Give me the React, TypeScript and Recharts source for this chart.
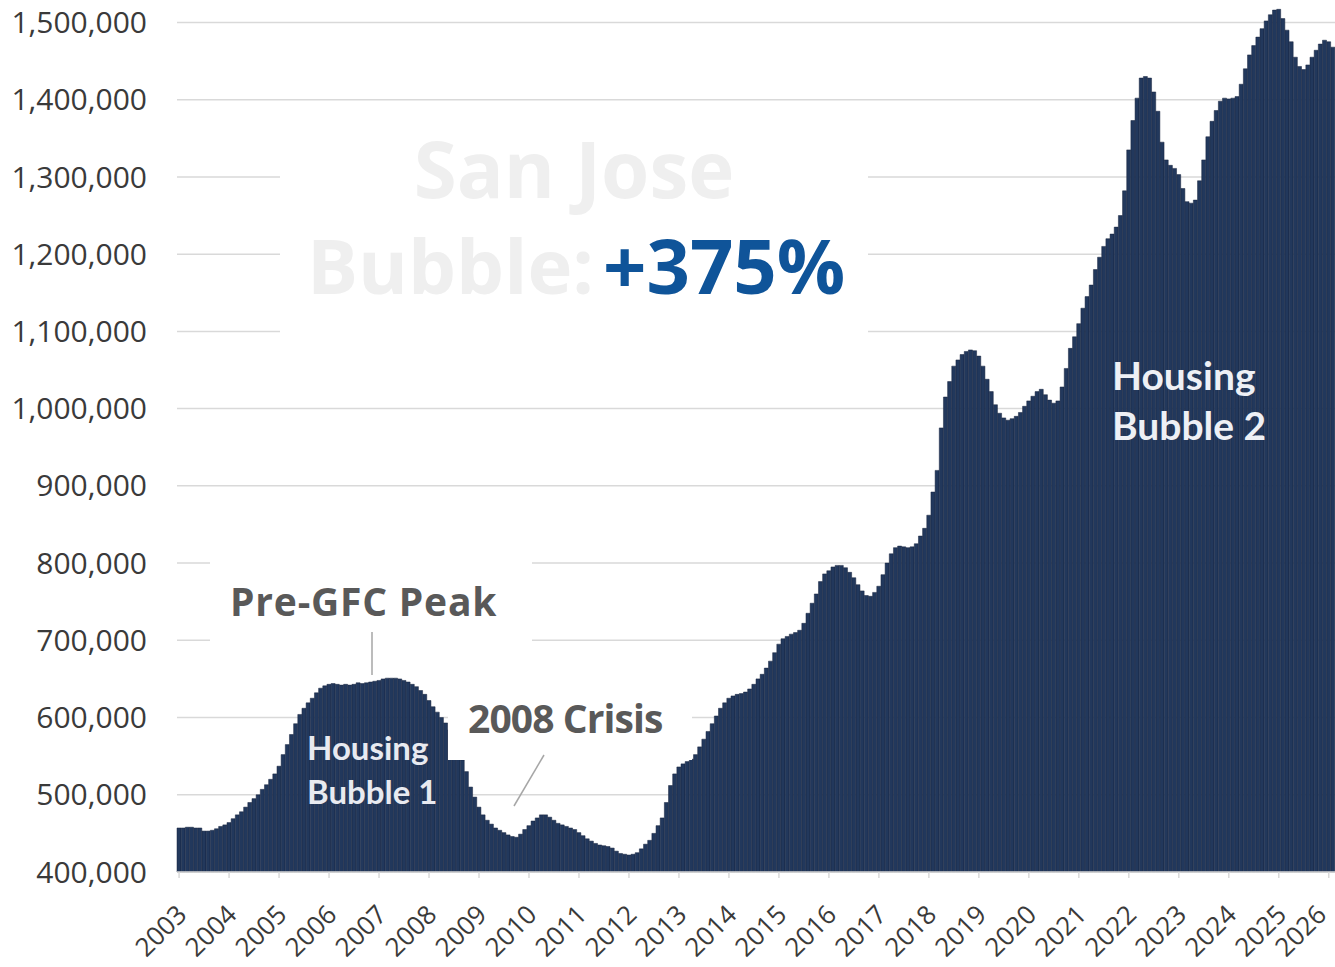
import { BarChart, Bar, XAxis, YAxis, CartesianGrid } from "recharts"

// median home price, San Jose, monthly (USD)
const years = [
  2003, 2004, 2005, 2006, 2007, 2008, 2009, 2010, 2011, 2012, 2013, 2014,
  2015, 2016, 2017, 2018, 2019, 2020, 2021, 2022, 2023, 2024, 2025, 2026,
]

const p2003 = [457000, 457000, 458000, 458000, 457000, 457000, 453000, 453000, 454000, 456000, 459000, 461000]
const p2004 = [464000, 469000, 474000, 478000, 484000, 490000, 495000, 500000, 507000, 513000, 520000, 527000]
const p2005 = [537000, 552000, 565000, 578000, 592000, 604000, 612000, 619000, 625000, 632000, 638000, 641000]
const p2006 = [643000, 644000, 643000, 642000, 643000, 642000, 643000, 645000, 644000, 645000, 646000, 647000]
const p2007 = [648000, 650000, 651000, 651000, 651000, 650000, 648000, 646000, 643000, 640000, 635000, 630000]
const p2008 = [622000, 614000, 607000, 600000, 593000, 584000, 573000, 560000, 545000, 530000, 510000, 497000]
const p2009 = [484000, 474000, 467000, 462000, 457000, 454000, 451000, 448000, 446000, 445000, 449000, 455000]
const p2010 = [460000, 466000, 470000, 474000, 474000, 471000, 467000, 463000, 461000, 459000, 457000, 455000]
const p2011 = [451000, 447000, 443000, 440000, 437000, 435000, 434000, 433000, 431000, 427000, 424000, 423000]
const p2012 = [422000, 423000, 425000, 430000, 436000, 441000, 450000, 460000, 470000, 490000, 512000, 527000]
const p2013 = [536000, 540000, 543000, 546000, 552000, 562000, 572000, 582000, 592000, 602000, 612000, 619000]
const p2014 = [625000, 628000, 630000, 631000, 633000, 637000, 643000, 650000, 656000, 664000, 673000, 684000]
const p2015 = [695000, 702000, 705000, 708000, 710000, 713000, 722000, 735000, 748000, 760000, 776000, 786000]
const p2016 = [790000, 795000, 797000, 797000, 794000, 788000, 781000, 772000, 764000, 758000, 757000, 762000]
const p2017 = [770000, 785000, 800000, 812000, 820000, 822000, 821000, 820000, 821000, 825000, 835000, 845000]
const p2018 = [862000, 892000, 920000, 975000, 1015000, 1035000, 1055000, 1063000, 1070000, 1074000, 1076000, 1075000]
const p2019 = [1068000, 1055000, 1038000, 1022000, 1005000, 994000, 988000, 985000, 987000, 990000, 995000, 1003000]
const p2020 = [1010000, 1016000, 1022000, 1025000, 1018000, 1011000, 1007000, 1010000, 1028000, 1052000, 1078000, 1093000]
const p2021 = [1110000, 1130000, 1145000, 1160000, 1180000, 1196000, 1210000, 1220000, 1226000, 1235000, 1250000, 1282000]
const p2022 = [1335000, 1373000, 1402000, 1428000, 1430000, 1428000, 1410000, 1385000, 1345000, 1322000, 1315000, 1311000]
const p2023 = [1303000, 1285000, 1268000, 1266000, 1270000, 1295000, 1322000, 1352000, 1372000, 1386000, 1398000, 1402000]
const p2024 = [1401000, 1402000, 1404000, 1420000, 1440000, 1458000, 1470000, 1481000, 1492000, 1502000, 1510000, 1516000]
const p2025 = [1517000, 1505000, 1490000, 1475000, 1455000, 1443000, 1439000, 1445000, 1455000, 1464000, 1472000, 1477000]
const p2026 = [1475000, 1468000]

const priceTicks = [
  400000, 500000, 600000, 700000, 800000, 900000, 1000000, 1100000, 1200000, 1300000, 1400000, 1500000,
]

const byYear = [
  p2003, p2004, p2005, p2006, p2007, p2008, p2009, p2010, p2011, p2012, p2013, p2014,
  p2015, p2016, p2017, p2018, p2019, p2020, p2021, p2022, p2023, p2024, p2025, p2026,
]

const rows = byYear.flatMap((vals, yi) =>
  vals.map((price, m) => ({ month: `${years[yi]}-${String(m + 1).padStart(2, "0")}`, price }))
)
const yearTicks = years.map((y) => `${y}-01`)

const NAVY = "#22385c"
const GRID = "#d9d9d9"
const LABEL = "#595959"
const AXIS_FONT = "'Open Sans', sans-serif"
const BOLD_FONT = "'Open Sans', sans-serif"
const CAL_FONT = "Lato, sans-serif"

// rotated year label; the last one is pulled in so it stays inside the frame
const YearTick = ({ x, y, payload, index }: any) => {
  const tx = index === yearTicks.length - 1 ? x - 14 : x - 4
  return (
    <text
      x={tx}
      y={y}
      dy="0.72em"
      transform={`rotate(-45, ${tx}, ${y})`}
      textAnchor="end"
      fill="#3a3a3a"
      fontSize={26}
      fontFamily={AXIS_FONT}
    >
      {String(payload.value).slice(0, 4)}
    </text>
  )
}

export default function App() {
  return (
    <div style={{ position: "absolute", left: 0, top: 0, width: 1335, height: 967, background: "#fff", overflow: "hidden" }}>
      <BarChart
        width={1335}
        height={967}
        data={rows}
        margin={{ top: 7, right: 0, bottom: 0, left: 0 }}
        barCategoryGap={0}
      >
        <CartesianGrid vertical={false} horizontalValues={priceTicks} stroke={GRID} strokeWidth={1.5} />
        <XAxis
          dataKey="month"
          ticks={yearTicks}
          interval={0}
          height={95}
          tickSize={6}
          tickMargin={25}
          stroke={GRID}
          strokeWidth={1.5}
          tick={<YearTick />}
        />
        <YAxis
          domain={[400000, 1520000]}
          ticks={priceTicks}
          width={177}
          tickSize={0}
          tickMargin={30}
          axisLine={false}
          tickLine={false}
          tickFormatter={(v: number) => v.toLocaleString("en-US")}
          tick={{ fill: "#3a3a3a", fontSize: 30, fontFamily: AXIS_FONT }}
        />
        <Bar dataKey="price" fill={NAVY} stroke="#16233c" strokeWidth={0.5} isAnimationActive={false} />
      </BarChart>

      <svg
        width={1335}
        height={967}
        style={{ position: "absolute", left: 0, top: 0, pointerEvents: "none" }}
      >
        {/* headline block */}
        <rect x={280} y={130} width={588} height={215} fill="#fff" />
        <text x={574} y={198} textAnchor="middle" fontFamily={BOLD_FONT} fontWeight={700} fontSize={78} fill="#efefef">
          San Jose
        </text>
        <text x={307} y={294} fontFamily={BOLD_FONT} fontWeight={700} fontSize={76} fill="#efefef">
          Bubble:
        </text>
        <text x={603} y={294} fontFamily={BOLD_FONT} fontWeight={700} fontSize={76} fill="#0f5499">
          +375%
        </text>

        {/* pre-GFC note */}
        <rect x={210} y={555} width={322} height={90} fill="#fff" />
        <text x={230} y={616} fontFamily={BOLD_FONT} fontWeight={700} fontSize={39} letterSpacing={0.8} fill={LABEL}>
          Pre-GFC Peak
        </text>
        <line x1={372} y1={632} x2={372} y2={675} stroke="#a6a6a6" strokeWidth={1.5} />

        {/* 2008 note */}
        <rect x={448} y={680} width={244} height={80} fill="#fff" />
        <text x={468} y={733} fontFamily={BOLD_FONT} fontWeight={700} fontSize={39} letterSpacing={-0.9} fill={LABEL}>
          2008 Crisis
        </text>
        <line x1={544} y1={755} x2={514} y2={806} stroke="#a6a6a6" strokeWidth={1.5} />

        {/* bubble labels */}
        <text x={307} y={760} fontFamily={CAL_FONT} fontWeight={700} fontSize={33} fill="#e8eaf0">
          Housing
        </text>
        <text x={307} y={804} fontFamily={CAL_FONT} fontWeight={700} fontSize={33} fill="#e8eaf0">
          Bubble 1
        </text>
        <text x={1112} y={390} fontFamily={CAL_FONT} fontWeight={700} fontSize={39} fill="#eef0f5">
          Housing
        </text>
        <text x={1112} y={440} fontFamily={CAL_FONT} fontWeight={700} fontSize={39} fill="#eef0f5">
          Bubble 2
        </text>
      </svg>
    </div>
  )
}
